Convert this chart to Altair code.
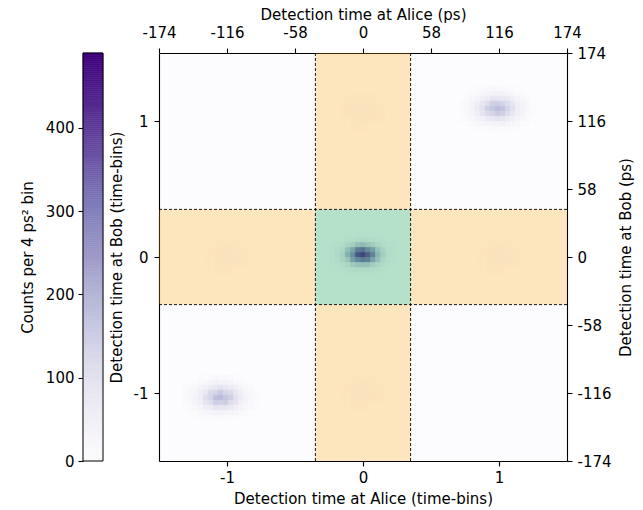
import altair as alt
import pandas as pd
import numpy as np

# ---------------- data ----------------
CELL = 0.037         # histogram cell size (time-bins)
COUNT_MAX = 490      # top of the colour bar
BAND_HALF = 0.35     # half-width of the shaded bands (time-bins)
EXTENT = 1.5         # axis half-range (time-bins)
PS_EXTENT = 174      # axis half-range (ps)

bin_ticks = [-1, 0, 1]
ps_ticks = [-174, -116, -58, 0, 58, 116, 174]
cbar_ticks = [0, 100, 200, 300, 400]

# matplotlib "Purples" colour stops
purples = ["#fcfbfd", "#efedf5", "#dadaeb", "#bcbddc", "#9e9ac8",
           "#807dba", "#6a51a3", "#54278f", "#3f007d"]

# central blob (rows top -> bottom)
blob_center = [
    [0, 1, 2, 4, 5, 8, 9, 7, 6, 3, 2, 1, 0],
    [2, 5, 9, 22, 30, 45, 50, 41, 34, 18, 11, 4, 1],
    [5, 18, 34, 78, 110, 160, 175, 148, 121, 69, 40, 14, 7],
    [10, 37, 74, 165, 238, 350, 372, 318, 262, 150, 86, 30, 13],
    [14, 48, 96, 210, 305, 440, 485, 415, 335, 190, 110, 40, 18],
    [13, 31, 84, 148, 259, 320, 355, 341, 244, 163, 77, 36, 11],
    [7, 15, 39, 70, 122, 149, 163, 158, 112, 76, 35, 17, 5],
    [1, 4, 11, 19, 34, 41, 45, 44, 30, 21, 9, 5, 2],
    [0, 1, 1, 3, 6, 7, 8, 8, 5, 3, 2, 1, 1],
]
# lower-left blob
blob_ll = [
    [0, 1, 2, 5, 6, 7, 12, 10, 11, 8, 5, 4, 2, 1, 0],
    [1, 2, 8, 12, 24, 26, 40, 36, 34, 31, 19, 14, 6, 4, 1],
    [4, 11, 16, 35, 48, 74, 79, 96, 80, 66, 54, 29, 19, 8, 2],
    [6, 17, 29, 58, 82, 125, 134, 158, 132, 121, 79, 58, 28, 14, 7],
    [10, 16, 40, 60, 108, 132, 178, 187, 162, 146, 95, 68, 34, 19, 7],
    [7, 14, 34, 50, 91, 110, 149, 144, 150, 112, 89, 49, 32, 17, 6],
    [2, 10, 19, 30, 53, 66, 89, 84, 88, 72, 46, 35, 16, 11, 4],
    [1, 4, 6, 14, 19, 31, 34, 42, 32, 28, 23, 12, 8, 2, 1],
    [0, 1, 2, 4, 7, 8, 10, 12, 10, 7, 6, 5, 1, 1, 0],
]
# upper-right blob
blob_ur = [
    [0, 1, 1, 4, 7, 10, 11, 10, 12, 7, 6, 2, 2, 1, 0],
    [1, 4, 7, 14, 20, 28, 37, 41, 35, 26, 23, 12, 7, 2, 1],
    [2, 8, 19, 31, 54, 65, 86, 85, 79, 74, 48, 34, 17, 10, 4],
    [7, 14, 32, 55, 84, 114, 145, 149, 138, 113, 88, 52, 34, 16, 6],
    [8, 19, 34, 68, 96, 144, 163, 182, 174, 134, 106, 61, 37, 17, 10],
    [6, 17, 30, 53, 89, 121, 138, 156, 145, 115, 82, 56, 29, 14, 7],
    [4, 8, 18, 34, 47, 72, 82, 92, 85, 67, 53, 30, 19, 8, 2],
    [1, 4, 8, 12, 23, 30, 34, 37, 38, 28, 20, 14, 6, 4, 1],
    [0, 1, 2, 4, 6, 7, 11, 11, 10, 10, 5, 4, 2, 0, 0],
]
# faint side blobs
blob_faint = [
    [1, 1, 2, 3, 3, 4, 3, 3, 2, 1, 1],
    [1, 2, 4, 6, 8, 9, 8, 6, 4, 2, 1],
    [2, 4, 7, 11, 14, 15, 13, 10, 6, 4, 2],
    [2, 5, 8, 12, 16, 18, 15, 12, 8, 5, 2],
    [2, 4, 6, 10, 13, 16, 14, 9, 7, 4, 2],
    [1, 3, 4, 6, 8, 8, 7, 6, 4, 3, 1],
    [1, 1, 2, 3, 3, 4, 3, 2, 2, 1, 1],
]

blob_cx = [0.0, -1.045, 0.99, 0.0, 0.0, -1.0, 1.0]
blob_cy = [0.015, -1.035, 1.09, 1.07, -1.0, 0.0, 0.0]
blob_mats = [blob_center, blob_ll, blob_ur, blob_faint, blob_faint, blob_faint, blob_faint]

# ---------------- tables ----------------
rows = []
for cx, cy, m in zip(blob_cx, blob_cy, blob_mats):
    nr, nc = len(m), len(m[0])
    for r, row in enumerate(m):
        for c, v in enumerate(row):
            if v <= 0:
                continue
            x0 = cx + (c - nc / 2) * CELL
            y1 = cy + (nr / 2 - r) * CELL
            rows.append(dict(x0=x0, x1=x0 + CELL, y0=y1 - CELL, y1=y1, count=v))
heat_df = pd.DataFrame(rows)

H, E = BAND_HALF, EXTENT
arms_df = pd.DataFrame(dict(x0=[-H, -H, -E, H], x1=[H, H, -H, E],
                            y0=[H, -E, -H, -H], y1=[E, -H, H, H]))
center_df = pd.DataFrame(dict(x0=[-H], x1=[H], y0=[-H], y1=[H]))
vline_df = pd.DataFrame(dict(x0=[-H, H], y0=[-E, -E], y1=[E, E]))
hline_df = pd.DataFrame(dict(y0=[-H, H], x0=[-E, -E], x1=[E, E]))
ps_df = pd.DataFrame(dict(ps=ps_ticks))

FONT = "DejaVu Sans"
xs = alt.Scale(domain=[-E, E], nice=False, zero=False)
ys = alt.Scale(domain=[-E, E], nice=False, zero=False)
cstops = list(np.linspace(0, COUNT_MAX, len(purples)))
cscale = alt.Scale(domain=cstops, range=purples, interpolate="rgb", clamp=True)
label_expr = "'' + datum.value"

x_axis = alt.Axis(orient="bottom", values=bin_ticks, labelExpr=label_expr,
                  title="Detection time at Alice (time-bins)",
                  labelFlush=False, labelPadding=4, titlePadding=6)
y_axis = alt.Axis(orient="left", values=bin_ticks, labelExpr=label_expr,
                  title="Detection time at Bob (time-bins)",
                  labelFlush=False, labelPadding=6, titlePadding=9)

heat = alt.Chart(heat_df).mark_rect(strokeWidth=0.6).encode(
    x=alt.X("x0:Q", scale=xs, axis=x_axis),
    x2="x1:Q",
    y=alt.Y("y0:Q", scale=ys, axis=y_axis),
    y2="y1:Q",
    color=alt.Color("count:Q", scale=cscale, legend=None),
    stroke=alt.Stroke("count:Q", scale=cscale, legend=None),
)

arms = alt.Chart(arms_df).mark_rect(color="#ffa500", opacity=0.25).encode(
    x=alt.X("x0:Q", scale=xs, axis=x_axis), x2="x1:Q",
    y=alt.Y("y0:Q", scale=ys, axis=y_axis), y2="y1:Q")

center = alt.Chart(center_df).mark_rect(color="#3cb371", opacity=0.37).encode(
    x=alt.X("x0:Q", scale=xs, axis=x_axis), x2="x1:Q",
    y=alt.Y("y0:Q", scale=ys, axis=y_axis), y2="y1:Q")

vlines = alt.Chart(vline_df).mark_rule(color="black", strokeDash=[3, 2], strokeWidth=0.9).encode(
    x=alt.X("x0:Q", scale=xs, axis=x_axis),
    y=alt.Y("y0:Q", scale=ys, axis=y_axis), y2="y1:Q")

hlines = alt.Chart(hline_df).mark_rule(color="black", strokeDash=[3, 2], strokeWidth=0.9).encode(
    y=alt.Y("y0:Q", scale=ys, axis=y_axis),
    x=alt.X("x0:Q", scale=xs, axis=x_axis), x2="x1:Q")

inner = alt.layer(heat, arms, center, vlines, hlines)

ps_scale_x = alt.Scale(domain=[-PS_EXTENT, PS_EXTENT], nice=False, zero=False)
ps_scale_y = alt.Scale(domain=[-PS_EXTENT, PS_EXTENT], nice=False, zero=False)
ps_layer = alt.Chart(ps_df).mark_point(opacity=0).encode(
    x=alt.X("ps:Q", scale=ps_scale_x,
            axis=alt.Axis(orient="top", values=ps_ticks, labelExpr=label_expr,
                          title="Detection time at Alice (ps)",
                          labelFlush=False, labelOverlap=False, labelPadding=8, titlePadding=3)),
    y=alt.Y("ps:Q", scale=ps_scale_y,
            axis=alt.Axis(orient="right", values=ps_ticks, labelExpr=label_expr,
                          title="Detection time at Bob (ps)", titleAngle=270, titleBaseline="top",
                          labelFlush=False, labelOverlap=False, labelPadding=5, titlePadding=7)),
)

main = alt.layer(inner, ps_layer).resolve_scale(
    x="independent", y="independent"
).properties(width=408, height=408)

# ---------------- colour bar ----------------
steps = np.linspace(0, COUNT_MAX, 201)
cbar_df = pd.DataFrame(dict(v0=steps[:-1], v1=steps[1:], vm=(steps[:-1] + steps[1:]) / 2))
cbar_scale = alt.Scale(domain=[0, COUNT_MAX], nice=False, zero=False)
cbar_rects = alt.Chart(cbar_df).mark_rect(strokeWidth=0.6).encode(
    x=alt.value(0), x2=alt.value(20),
    y=alt.Y("v0:Q", scale=cbar_scale,
            axis=alt.Axis(orient="left", values=cbar_ticks, title="Counts per 4 ps² bin",
                          labelFlush=False, labelPadding=4, titlePadding=10)),
    y2="v1:Q",
    color=alt.Color("vm:Q", scale=cscale, legend=None),
    stroke=alt.Stroke("vm:Q", scale=cscale, legend=None),
)
cbar_outline = alt.Chart(pd.DataFrame(dict(a=[0]))).mark_rect(
    fill="transparent", stroke="black", strokeWidth=1).encode(
    x=alt.value(0), x2=alt.value(20), y=alt.value(0), y2=alt.value(408))
cbar = alt.layer(cbar_rects, cbar_outline).properties(width=20, height=408)

chart = alt.hconcat(cbar, main, spacing=5).properties(
    padding={"left": 20, "top": 7, "right": 5, "bottom": 3},
    background="white",
).configure_view(
    fill="#fcfbfd", stroke=None
).configure_axis(
    labelFont=FONT, titleFont=FONT, labelFontSize=15, titleFontSize=15,
    titleFontWeight="normal", labelColor="black", titleColor="black",
    domainColor="black", tickColor="black", tickSize=5,
    domainWidth=1.1, tickWidth=1.1, grid=False,
)

chart.save("out.html", embed_options={"renderer": "svg", "actions": False})
